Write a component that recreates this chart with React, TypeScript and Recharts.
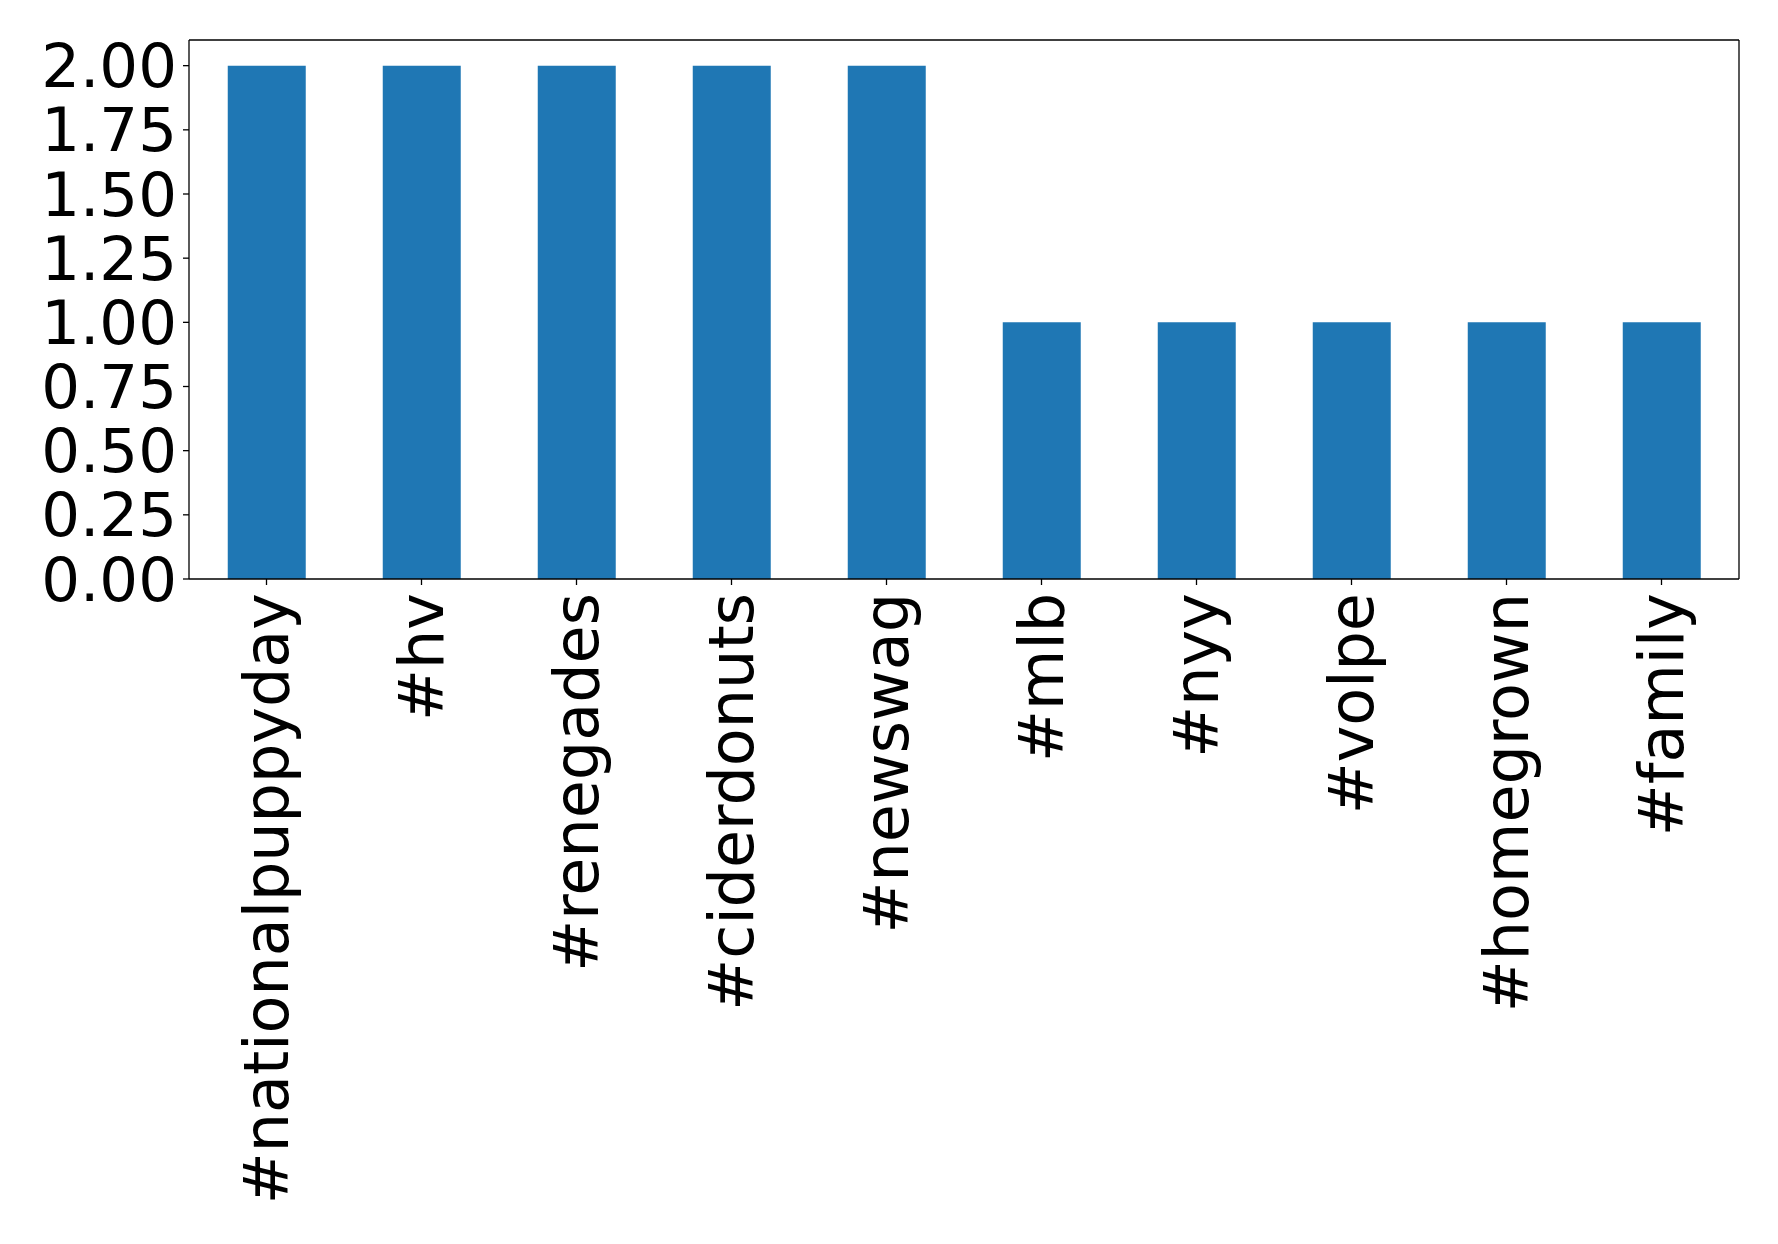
import React from "react";
import { BarChart, Bar, XAxis, YAxis } from "recharts";

const categories = [
  "#nationalpuppyday",
  "#hv",
  "#renegades",
  "#ciderdonuts",
  "#newswag",
  "#mlb",
  "#nyy",
  "#volpe",
  "#homegrown",
  "#family",
];
const counts = [2, 2, 2, 2, 2, 1, 1, 1, 1, 1];
const yTicks = [0, 0.25, 0.5, 0.75, 1.0, 1.25, 1.5, 1.75, 2.0];

const data = categories.map((c, i) => ({ tag: c, count: counts[i] }));

const FONT = "DejaVu Sans";
const FS = 61;

const XTick = (props: any) => {
  const { x, y, payload } = props;
  return (
    <text
      x={x}
      y={y + 6}
      transform={`rotate(-90, ${x}, ${y + 6})`}
      textAnchor="end"
      dominantBaseline="central"
      fontFamily={FONT}
      fontSize={62}
      fill="#000"
    >
      {payload.value}
    </text>
  );
};

export default function App() {
  return (
    <div style={{ position: "absolute", left: 0, top: 0, width: 1778, height: 1244, background: "#fff" }}>
      <BarChart
        width={1778}
        height={1244}
        data={data}
        margin={{ top: 39, right: 38, bottom: 165, left: 0 }}
        barCategoryGap="25%"
      >
        <XAxis
          dataKey="tag"
          interval={0}
          height={500}
          tick={<XTick />}
          tickSize={6}
          tickLine={{ stroke: "#000", strokeWidth: 1.3 }}
          axisLine={{ stroke: "#000", strokeWidth: 1.3 }}
        />
        <XAxis
          xAxisId="top"
          dataKey="tag"
          orientation="top"
          height={1}
          tick={false}
          tickLine={false}
          axisLine={{ stroke: "#000", strokeWidth: 1.3 }}
        />
        <YAxis
          domain={[0, 2.1]}
          ticks={yTicks}
          interval={0}
          width={189}
          tickSize={6}
          tickMargin={6}
          tickFormatter={(v: number) => v.toFixed(2)}
          tick={{ fontFamily: FONT, fontSize: FS, fill: "#000" }}
          tickLine={{ stroke: "#000", strokeWidth: 1.3 }}
          axisLine={{ stroke: "#000", strokeWidth: 1.3 }}
          allowDataOverflow
        />
        <YAxis
          yAxisId="right"
          orientation="right"
          width={1}
          domain={[0, 2.1]}
          tick={false}
          tickLine={false}
          axisLine={{ stroke: "#000", strokeWidth: 1.3 }}
        />
        <Bar dataKey="count" fill="#1f77b4" isAnimationActive={false} />
      </BarChart>
    </div>
  );
}
